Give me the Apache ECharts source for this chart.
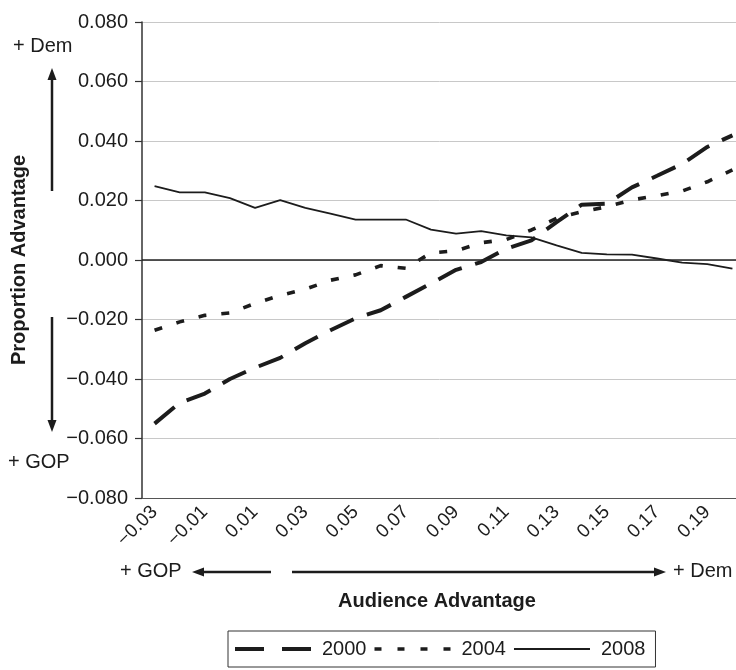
<!DOCTYPE html>
<html>
<head>
<meta charset="utf-8">
<script src="https://cdn.jsdelivr.net/npm/echarts@6/dist/echarts.min.js"></script>
<style>
  html, body { margin: 0; padding: 0; background: #fff; }
  #chart { width: 736px; height: 670px; }
</style>
</head>
<body>
<div id="chart"></div>
<script>
// Audience advantage categories (x axis)
const categories = ['\u22120.03', '\u22120.02', '\u22120.01', '0.00', '0.01', '0.02', '0.03', '0.04',
  '0.05', '0.06', '0.07', '0.08', '0.09', '0.10', '0.11', '0.12', '0.13', '0.14', '0.15', '0.16',
  '0.17', '0.18', '0.19', '0.20'];

// Proportion advantage by election year
const series2000 = [-0.0550, -0.0480, -0.0449, -0.0400, -0.0362, -0.0329, -0.0280, -0.0236,
  -0.0196, -0.0169, -0.0124, -0.0079, -0.0033, -0.0007, 0.0038, 0.0066, 0.0127, 0.0186,
  0.0189, 0.0244, 0.0283, 0.0323, 0.0380, 0.0419];
const series2004 = [-0.0236, -0.0208, -0.0186, -0.0178, -0.0146, -0.0119, -0.0098, -0.0068,
  -0.0050, -0.0019, -0.0028, 0.0024, 0.0031, 0.0058, 0.0069, 0.0101, 0.0140, 0.0162,
  0.0179, 0.0202, 0.0216, 0.0232, 0.0263, 0.0303];
const series2008 = [0.0248, 0.0227, 0.0227, 0.0208, 0.0175, 0.0201, 0.0175, 0.0156,
  0.0136, 0.0136, 0.0136, 0.0102, 0.0089, 0.0097, 0.0083, 0.0076, 0.0049, 0.0024,
  0.0019, 0.0018, 0.0005, -0.0009, -0.0014, -0.0029];

// Value axis range
const yMin = -0.08;
const yMax = 0.08;
const yStep = 0.02;

const FONT = '"Liberation Sans", Arial, sans-serif';
const INK = '#1c1c1c';

// Legend keys: dash patterns drawn as small paths, all 76 x 4 so they scale alike
const KEY_BOUNDS = ' M0,0h0.01v0.01h-0.01z M75.99,3.99h0.01v0.01h-0.01z';
const key2000 = 'path://M0,0h29v4h-29z M47,0h29v4h-29z' + KEY_BOUNDS;
const key2004 = 'path://M0,0.2h7v3.6h-7z M23,0.2h7v3.6h-7z M46,0.2h7v3.6h-7z M69,0.2h7v3.6h-7z' + KEY_BOUNDS;
const key2008 = 'path://M0,1.1h76v1.8h-76z' + KEY_BOUNDS;

function fmtSigned(v) {
  const r = Math.round(v * 1000) / 1000;
  return (r < 0 ? '\u2212' : '') + Math.abs(r).toFixed(3);
}

function arrow(x1, y1, x2, y2) {
  // shaft plus a filled head at (x2, y2)
  const dx = x2 - x1, dy = y2 - y1;
  const len = Math.sqrt(dx * dx + dy * dy);
  const ux = dx / len, uy = dy / len;
  const hl = 12, hw = 4.5;
  const bx = x2 - ux * hl, by = y2 - uy * hl;
  return [
    { type: 'line', shape: { x1: x1, y1: y1, x2: bx, y2: by },
      style: { stroke: INK, lineWidth: 2.5 }, silent: true },
    { type: 'polygon', shape: { points: [[x2, y2], [bx - uy * hw, by + ux * hw], [bx + uy * hw, by - ux * hw]] },
      style: { fill: INK }, silent: true }
  ];
}

const chart = echarts.init(document.getElementById('chart'), null, { renderer: 'canvas' });

const graphics = [].concat(
  arrow(52, 191, 52, 68),
  arrow(52, 317, 52, 432),
  arrow(271, 572, 192, 572),
  arrow(292, 572, 666, 572),
  [
    { type: 'text', left: 13, top: 36, style: { text: '+ Dem', font: '20px ' + FONT, fill: INK } },
    { type: 'text', left: 8, top: 452, style: { text: '+ GOP', font: '20px ' + FONT, fill: INK } },
    { type: 'text', left: 120, top: 561, style: { text: '+ GOP', font: '20px ' + FONT, fill: INK } },
    { type: 'text', left: 673, top: 561, style: { text: '+ Dem', font: '20px ' + FONT, fill: INK } },
    { type: 'text', x: 437, y: 601, style: { text: 'Audience Advantage', font: 'bold 20px ' + FONT,
      fill: INK, align: 'center', verticalAlign: 'middle' } }
  ]
);

chart.setOption({
  animation: false,
  backgroundColor: '#fff',
  grid: { left: 142, top: 22, width: 603, height: 476, containLabel: false, outerBoundsMode: 'none' },
  legend: {
    data: [
      { name: '2000', icon: key2000 },
      { name: '2004', icon: key2004 },
      { name: '2008', icon: key2008 }
    ],
    left: 228, top: 631,
    orient: 'horizontal',
    itemWidth: 76, itemHeight: 4, itemGap: 8,
    padding: [8, 10, 8, 7],
    borderColor: '#333', borderWidth: 1,
    itemStyle: { color: INK, borderWidth: 0 },
    textStyle: { fontSize: 20, lineHeight: 20, fontFamily: FONT, color: INK, padding: [0, 0, 0, 6] }
  },
  xAxis: {
    type: 'category',
    data: categories,
    boundaryGap: true,
    axisLine: { onZero: false, lineStyle: { color: '#555', width: 1.2 } },
    axisTick: { show: false },
    axisLabel: { interval: 1, rotate: 45, fontSize: 19, fontFamily: FONT, color: INK, margin: 11 },
    splitLine: { show: false }
  },
  yAxis: {
    type: 'value',
    min: yMin, max: yMax, interval: yStep,
    name: 'Proportion Advantage',
    nameLocation: 'middle',
    nameGap: 113,
    nameRotate: 90,
    nameTextStyle: { fontSize: 20, fontWeight: 'bold', fontFamily: FONT, color: INK },
    axisLine: { show: true, lineStyle: { color: '#333', width: 1.5 } },
    axisTick: { show: true, length: 7, lineStyle: { color: '#333', width: 1.2 } },
    axisLabel: { formatter: fmtSigned, fontSize: 20, fontFamily: FONT, color: INK, margin: 14 },
    splitLine: { show: true, lineStyle: { color: '#c8c8c8', width: 1 } }
  },
  series: [
    {
      name: '2000', type: 'line', data: series2000, symbol: 'none',
      lineStyle: { color: INK, width: 4, type: [26, 14], cap: 'butt' },
      itemStyle: { color: INK }
    },
    {
      name: '2004', type: 'line', data: series2004, symbol: 'none',
      lineStyle: { color: INK, width: 3.6, type: [8, 15], cap: 'butt' },
      itemStyle: { color: INK }
    },
    {
      name: '2008', type: 'line', data: series2008, symbol: 'none',
      lineStyle: { color: INK, width: 1.8, type: 'solid' },
      itemStyle: { color: INK },
      markLine: {
        silent: true, symbol: ['none', 'none'],
        label: { show: false },
        lineStyle: { color: '#222', width: 1.6, type: 'solid' },
        data: [{ yAxis: 0 }]
      }
    }
  ],
  graphic: graphics
});
</script>
</body>
</html>
